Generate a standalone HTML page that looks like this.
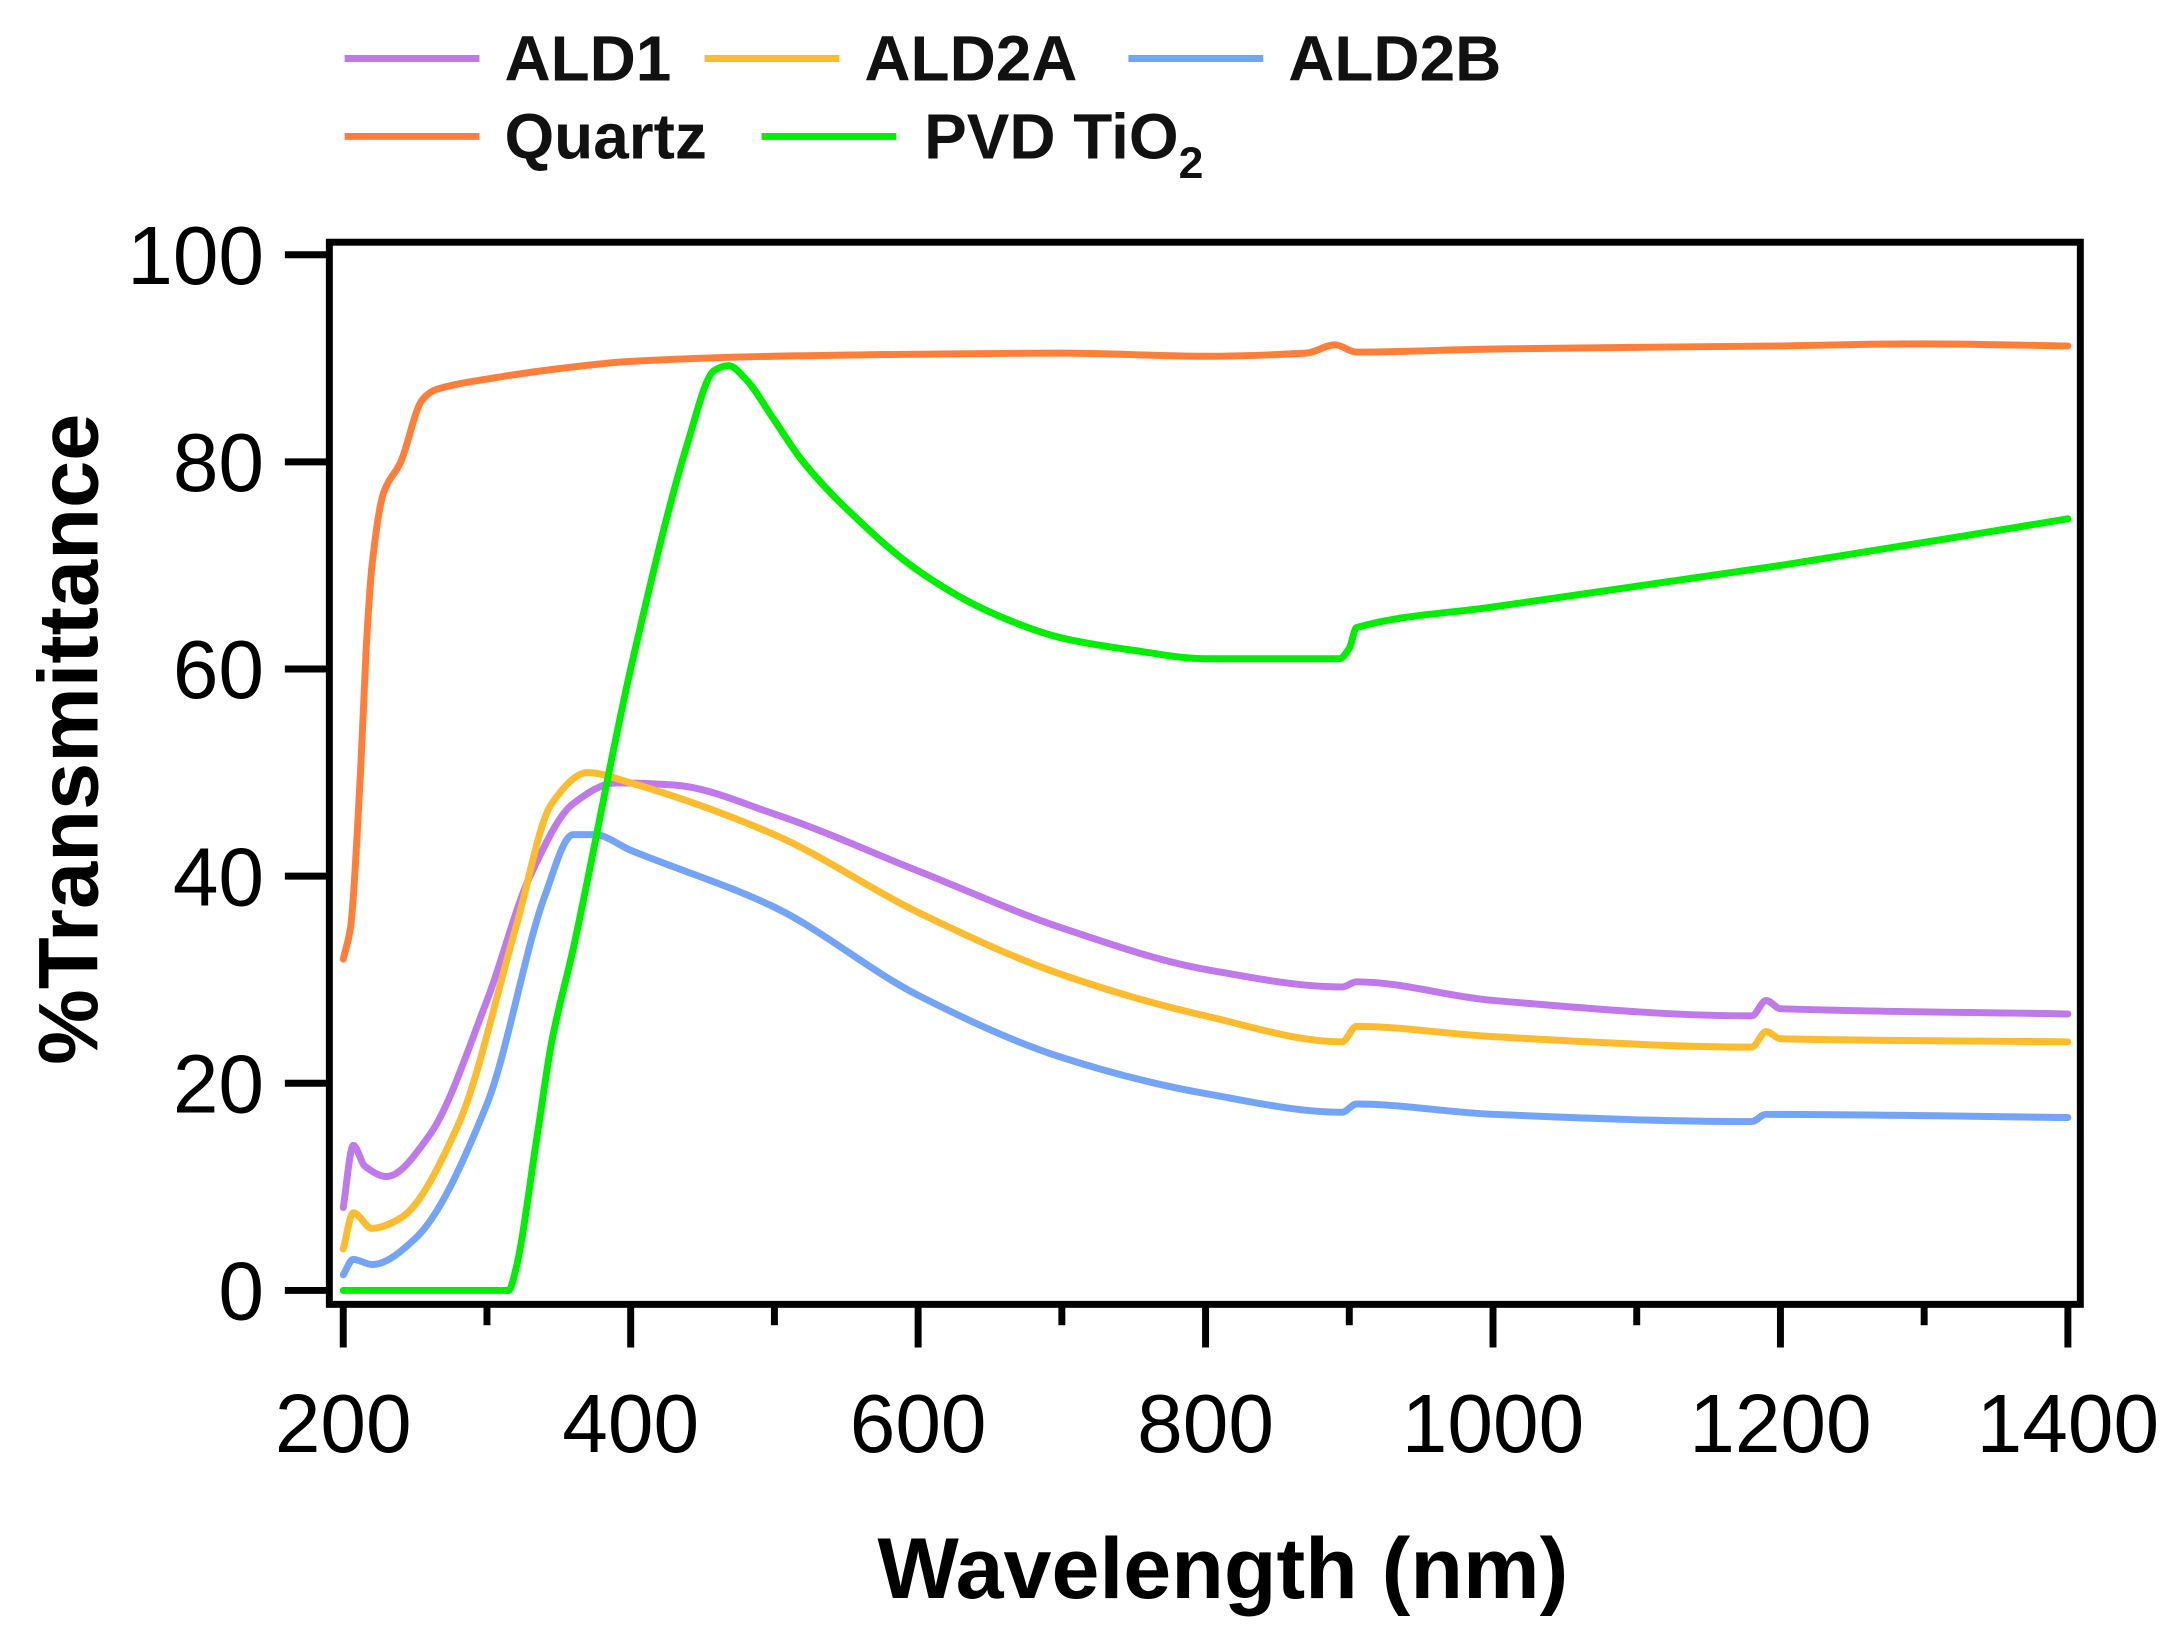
<!DOCTYPE html>
<html><head><meta charset="utf-8"><style>
html,body{margin:0;padding:0;background:#fff;}
svg{display:block}
text{font-family:"Liberation Sans",Arial,sans-serif;}
</style></head><body>
<svg id="s" width="2179" height="1644" viewBox="0 0 1568 1181" preserveAspectRatio="none" xmlns="http://www.w3.org/2000/svg">
<g font-weight="bold" font-size="46" fill="#111">
<line x1="248" y1="42" x2="345" y2="42" stroke="#bf79ea" stroke-width="5"/><text x="363" y="58">ALD1</text>
<line x1="507" y1="42" x2="604" y2="42" stroke="#fdbb2e" stroke-width="5"/><text x="622" y="58">ALD2A</text>
<line x1="812" y1="42" x2="909" y2="42" stroke="#74a4f8" stroke-width="5"/><text x="927" y="58">ALD2B</text>
<line x1="248" y1="98" x2="345" y2="98" stroke="#ff7f3a" stroke-width="5"/><text x="363" y="114">Quartz</text>
<line x1="548" y1="98" x2="645" y2="98" stroke="#00ee00" stroke-width="5"/><text x="665" y="114">PVD TiO<tspan font-size="32" dy="14">2</tspan></text>
</g>
<g id="data" fill="none" stroke-width="5" stroke-linejoin="round" stroke-linecap="round"></g>
<rect x="237" y="174" width="1260" height="763" fill="none" stroke="#000" stroke-width="5"/>
<g id="ax" stroke="#000" stroke-width="5"></g>
<g font-size="59" fill="#000" id="lab"></g>
<text x="880" y="1148" font-size="62" font-weight="bold" text-anchor="middle">Wavelength (nm)</text>
<text transform="translate(70,531) rotate(-90)" font-size="61" font-weight="bold" text-anchor="middle">%Transmittance</text>
</svg>
<script>
const X=n=>247+(n-200)*1.0342, Y=t=>927-t*7.44;
const ns="http://www.w3.org/2000/svg";
const ax=document.getElementById('ax'),lab=document.getElementById('lab'),dg=document.getElementById('data');
function el(p,tag,a,txt){const e=document.createElementNS(ns,tag);for(const k in a)e.setAttribute(k,a[k]);if(txt)e.textContent=txt;p.appendChild(e);return e;}
for(let t=0;t<=100;t+=20){el(ax,'line',{x1:205,x2:237,y1:Y(t),y2:Y(t)});el(lab,'text',{x:190,y:Y(t)+21,'text-anchor':'end'},String(t));}
for(let n=200;n<=1400;n+=100){const maj=n%200==0;el(ax,'line',{x1:X(n),x2:X(n),y1:937,y2:maj?968:952});if(maj)el(lab,'text',{x:X(n),y:1043,'text-anchor':'middle'},String(n));}
const S={
"#ff7f3a":[[200,32],[205,35],[212,50],[216,62],[220,70],[228,77],[240,80],[255,86],[265,87],[300,88],[350,89],[400,89.7],[500,90.2],[700,90.5],[800,90.2],[870,90.5],[890,91.3],[905,90.6],[1000,90.9],[1200,91.2],[1300,91.4],[1400,91.2]],
"#bf79ea":[[200,8],[207,14],[215,12],[230,11],[260,15],[300,28],[330,40],[360,47],[390,49],[430,48.8],[500,46],[600,40.5],[700,35],[800,31],[895,29.3],[905,29.8],[1000,28],[1180,26.5],[1190,28],[1200,27.2],[1400,26.7]],
"#fdbb2e":[[200,4],[207,7.5],[220,6],[240,7],[280,16],[320,35],[345,47],[370,50],[400,49],[500,44],[600,36.5],[700,30.5],[800,26.5],[895,24],[905,25.5],[1000,24.5],[1180,23.5],[1190,25],[1200,24.3],[1400,24]],
"#74a4f8":[[200,1.5],[207,3],[220,2.5],[250,5],[300,18],[340,38],[360,44],[375,44],[400,42.5],[500,37],[600,28.5],[700,22.5],[800,19],[895,17.2],[905,18],[1000,17],[1180,16.3],[1190,17],[1400,16.7]],
"#00ee00":[[200,0],[315,0],[320,2],[335,15],[345,24],[360,33],[400,60],[440,82],[458,88.8],[468,89.3],[480,88],[500,84],[520,80],[550,75.5],[600,69.5],[650,65.5],[700,63],[750,61.8],[800,61],[893,61],[900,62],[905,64],[1000,66],[1200,70],[1400,74.5]]};
function path(pts){const P=pts.map(p=>[X(p[0]),Y(p[1])]);const n=P.length;
const d0=[];for(let i=0;i<n-1;i++)d0.push((P[i+1][1]-P[i][1])/(P[i+1][0]-P[i][0]));
const m=[];for(let i=0;i<n;i++){if(i==0)m.push(d0[0]);else if(i==n-1)m.push(d0[n-2]);else if(d0[i-1]*d0[i]<=0)m.push(0);else{const a=d0[i-1],b=d0[i];m.push(2*a*b/(a+b));}}
let d='M'+P[0][0].toFixed(1)+','+P[0][1].toFixed(1);
for(let i=0;i<n-1;i++){const h=(P[i+1][0]-P[i][0])/3;
d+=' C'+(P[i][0]+h).toFixed(1)+','+(P[i][1]+m[i]*h).toFixed(1)+' '+(P[i+1][0]-h).toFixed(1)+','+(P[i+1][1]-m[i+1]*h).toFixed(1)+' '+P[i+1][0].toFixed(1)+','+P[i+1][1].toFixed(1);}
return d;}
for(const c in S){el(dg,'path',{stroke:c,d:path(S[c])});}
</script>
</body></html>
